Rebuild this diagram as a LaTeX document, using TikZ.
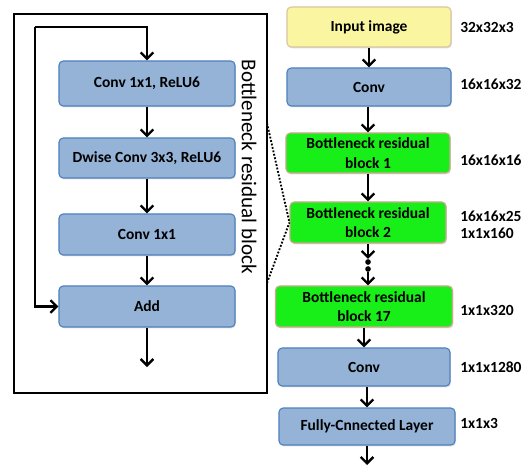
\documentclass[tikz,border=0pt]{standalone}
\usepackage{fontspec}
\setmainfont{Carlito}
\usetikzlibrary{arrows.meta,positioning,shadows}
\definecolor{boxblue}{RGB}{149,179,215}
\definecolor{edgeblue}{RGB}{79,129,189}
\definecolor{inyellow}{RGB}{250,245,160}
\definecolor{edgetan}{RGB}{218,196,160}
\definecolor{blockgreen}{RGB}{24,238,24}
\definecolor{edgebrown}{RGB}{208,168,140}

\begin{document}
\begin{tikzpicture}[x=0.025cm, y=-0.025cm,
    box/.style={draw=edgeblue, fill=boxblue, line width=0.8pt, rounded corners=3pt, inner sep=0pt,
        align=center, font=\fontsize{11}{14}\selectfont\bfseries,
        drop shadow={shadow xshift=0.6pt, shadow yshift=-1pt, opacity=0.25}},
    inbox/.style={box, draw=edgetan, fill=inyellow},
    blkbox/.style={box, draw=edgebrown, fill=blockgreen},
    dimlabel/.style={anchor=west, align=left, inner sep=0pt, font=\fontsize{11}{12}\selectfont\bfseries},
    dot/.style={circle, fill=black, inner sep=0pt, minimum size=4pt},
    arrow/.style={->, line width=1.7pt, >={Straight Barb[length=4.5pt,width=9pt]}}
]
    \useasboundingbox (0,0) rectangle (530,465);

    % Bottleneck block, detailed
    \draw[line width=2pt] (14,14) rectangle (267,393);
    \coordinate (frameA) at (267,123);
    \coordinate (frameB) at (267,283);
    \node[rotate=-90, font=\fontsize{15}{15}\selectfont] (blocktitle) at (249,167) {Bottleneck residual block};

    \node[box, minimum width=4.4cm, minimum height=1.125cm] (exp) at (147,83.5) {Conv 1x1, ReLU6};
    \node[box, minimum width=4.4cm, minimum height=1cm] (dw) at (147,158) {Dwise Conv 3x3, ReLU6};
    \node[box, minimum width=4.4cm, minimum height=1.025cm] (proj) at (147,234.5) {Conv 1x1};
    \node[box, minimum width=4.4cm, minimum height=1.025cm] (add) at (147,306.5) {Add};

    \coordinate (split) at (35,27);
    \coordinate (blockout) at (147,367);
    \draw[arrow] (split) -| (exp.north);
    \draw[arrow] (split) |- (add.west);
    \draw[arrow] (exp) -- (dw);
    \draw[arrow] (dw) -- (proj);
    \draw[arrow] (proj) -- (add);
    \draw[arrow] (add) -- (blockout);

    % Network
    \node[inbox, minimum width=4.1cm, minimum height=1cm] (input) at (369,27) {Input image};
    \node[box, minimum width=4.1cm, minimum height=0.95cm] (conv) at (369,87) {Conv};
    \node[blkbox, minimum width=4.1cm, minimum height=1cm] (blk1) at (368,153) {Bottleneck residual\\block 1};
    \node[blkbox, minimum width=3.9cm, minimum height=1.025cm] (blk2) at (368,222.5) {Bottleneck residual\\block 2};
    \node[dot] (dotA) at (368,262) {};
    \node[dot] (dotB) at (368,269) {};
    \node[blkbox, minimum width=4.425cm, minimum height=1.025cm] (blk17) at (364,306.5) {Bottleneck residual\\block 17};
    \node[box, minimum width=4.3cm, minimum height=0.95cm] (conv2) at (364,367) {Conv};
    \node[box, minimum width=4.4cm, minimum height=0.925cm] (fc) at (367,426.5) {Fully-Cnnected Layer};
    \coordinate (netout) at (367,465);

    \draw[arrow] (input) -- (conv);
    \draw[arrow] (conv.south -| blk1) -- (blk1);
    \draw[arrow] (blk1) -- (blk2);
    \draw[arrow] (blk2) -- (dotA);
    \draw[arrow] (dotB) -- (blk17.north -| dotB);
    \draw[arrow] (blk17) -- (conv2);
    \draw[arrow] (conv2.south -| fc) -- (fc);
    \draw[arrow] (fc) -- (netout);

    % zoom lines to block 2
    \draw[line width=1.3pt, dash pattern=on 1.3pt off 1.2pt] (frameA) -- (blk2.west);
    \draw[line width=1.3pt, dash pattern=on 1.3pt off 1.2pt] (frameB) -- (blk2.west);

    % output shapes
    \node[dimlabel] (s0) at (460,27) {32x32x3};
    \node[dimlabel] (s1) at (460,84) {16x16x32};
    \node[dimlabel] (s2) at (460,160) {16x16x16};
    \node[dimlabel] (s3) at (460,225) {16x16x25\\1x1x160};
    \node[dimlabel] (s4) at (460,310) {1x1x320};
    \node[dimlabel] (s5) at (460,367) {1x1x1280};
    \node[dimlabel] (s6) at (460,423) {1x1x3};
\end{tikzpicture}
\end{document}
